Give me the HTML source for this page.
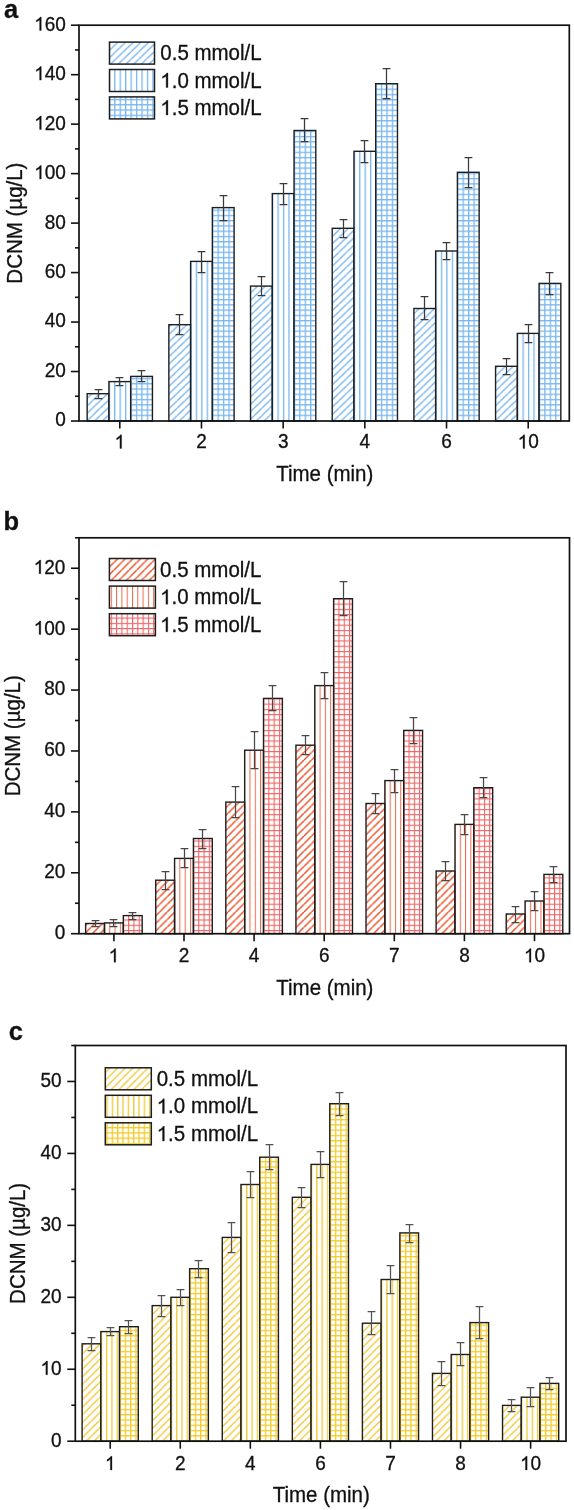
<!DOCTYPE html><html><head><meta charset="utf-8"><style>html,body{margin:0;padding:0;background:#fff;}svg{display:block;will-change:transform;}text{font-family:"Liberation Sans", sans-serif;fill:#111;stroke:#111;stroke-width:0.3px;}</style></head><body><svg width="574" height="1510" viewBox="0 0 574 1510"><defs><pattern id="da" patternUnits="userSpaceOnUse" width="7.700" height="7.423"><path d="M-7.700 7.423L0 0M0 7.423L7.700 0M7.700 7.423L15.400 0" stroke="#6aaef0" stroke-width="1.25" fill="none"/></pattern><pattern id="va" patternUnits="userSpaceOnUse" width="5.45" height="50" x="5.150"><rect x="0" y="0" width="1.3" height="50" fill="#79b6f0"/></pattern><pattern id="ga" patternUnits="userSpaceOnUse" width="5.45" height="5.26" x="5.150" y="4.210"><rect x="0" y="0" width="1.3" height="5.26" fill="#79b6f0"/><rect x="0" y="0" width="5.45" height="1.3" fill="#79b6f0"/></pattern><pattern id="db" patternUnits="userSpaceOnUse" width="7.600" height="7.600"><path d="M-7.600 7.600L0 0M0 7.600L7.600 0M7.600 7.600L15.200 0" stroke="#ea4f25" stroke-width="1.45" fill="none"/></pattern><pattern id="vb" patternUnits="userSpaceOnUse" width="5.3" height="50" x="4.800"><rect x="0" y="0" width="1.0" height="50" fill="#e86a4c"/></pattern><pattern id="gb" patternUnits="userSpaceOnUse" width="5.3" height="5.265" x="4.800" y="1.575"><rect x="0" y="0" width="1.1" height="5.265" fill="#f06262"/><rect x="0" y="0" width="5.3" height="1.1" fill="#f06262"/></pattern><pattern id="dc" patternUnits="userSpaceOnUse" width="7.600" height="7.600"><path d="M-7.600 7.600L0 0M0 7.600L7.600 0M7.600 7.600L15.200 0" stroke="#f0c428" stroke-width="1.3" fill="none"/></pattern><pattern id="vc" patternUnits="userSpaceOnUse" width="5.33" height="50" x="5.100"><rect x="0" y="0" width="1.4" height="50" fill="#f0cc40"/></pattern><pattern id="gc" patternUnits="userSpaceOnUse" width="5.33" height="5.27" x="5.100" y="4.495"><rect x="0" y="0" width="1.35" height="5.27" fill="#f4cc30"/><rect x="0" y="0" width="5.33" height="1.35" fill="#f4cc30"/></pattern></defs><g><rect x="87.17" y="393.7" width="21.75" height="27.3" fill="url(#da)"/><rect x="87.17" y="393.7" width="21.75" height="27.3" fill="none" stroke="#1e1e1e" stroke-width="1.4"/><g transform="translate(108.92 421)"><rect x="0" y="-39.4" width="21.75" height="39.4" fill="url(#va)"/></g><rect x="108.92" y="381.6" width="21.75" height="39.4" fill="none" stroke="#1e1e1e" stroke-width="1.4"/><g transform="translate(130.68 421)"><rect x="0" y="-44.6" width="21.75" height="44.6" fill="url(#ga)"/></g><rect x="130.68" y="376.4" width="21.75" height="44.6" fill="none" stroke="#1e1e1e" stroke-width="1.4"/><path d="M98.5 389.5V398.5M94.6 389.5H102.4M94.6 398.5H102.4" stroke="#3a3a3a" stroke-width="1.25" fill="none"/><path d="M119.5 377.5V385.5M115.6 377.5H123.4M115.6 385.5H123.4" stroke="#3a3a3a" stroke-width="1.25" fill="none"/><path d="M141.5 370.5V381.5M137.6 370.5H145.4M137.6 381.5H145.4" stroke="#3a3a3a" stroke-width="1.25" fill="none"/><rect x="168.86" y="324.7" width="21.75" height="96.3" fill="url(#da)"/><rect x="168.86" y="324.7" width="21.75" height="96.3" fill="none" stroke="#1e1e1e" stroke-width="1.4"/><g transform="translate(190.61 421)"><rect x="0" y="-159.6" width="21.75" height="159.6" fill="url(#va)"/></g><rect x="190.61" y="261.4" width="21.75" height="159.6" fill="none" stroke="#1e1e1e" stroke-width="1.4"/><g transform="translate(212.36 421)"><rect x="0" y="-213.4" width="21.75" height="213.4" fill="url(#ga)"/></g><rect x="212.36" y="207.6" width="21.75" height="213.4" fill="none" stroke="#1e1e1e" stroke-width="1.4"/><path d="M179.5 314.5V334.5M175.6 314.5H183.4M175.6 334.5H183.4" stroke="#3a3a3a" stroke-width="1.25" fill="none"/><path d="M201.5 251.5V272.5M197.6 251.5H205.4M197.6 272.5H205.4" stroke="#3a3a3a" stroke-width="1.25" fill="none"/><path d="M223.5 195.5V220.5M219.6 195.5H227.4M219.6 220.5H227.4" stroke="#3a3a3a" stroke-width="1.25" fill="none"/><rect x="250.54" y="286.1" width="21.75" height="134.9" fill="url(#da)"/><rect x="250.54" y="286.1" width="21.75" height="134.9" fill="none" stroke="#1e1e1e" stroke-width="1.4"/><g transform="translate(272.29 421)"><rect x="0" y="-227.4" width="21.75" height="227.4" fill="url(#va)"/></g><rect x="272.29" y="193.6" width="21.75" height="227.4" fill="none" stroke="#1e1e1e" stroke-width="1.4"/><g transform="translate(294.04 421)"><rect x="0" y="-290.5" width="21.75" height="290.5" fill="url(#ga)"/></g><rect x="294.04" y="130.5" width="21.75" height="290.5" fill="none" stroke="#1e1e1e" stroke-width="1.4"/><path d="M261.5 276.5V295.5M257.6 276.5H265.4M257.6 295.5H265.4" stroke="#3a3a3a" stroke-width="1.25" fill="none"/><path d="M283.5 183.5V204.5M279.6 183.5H287.4M279.6 204.5H287.4" stroke="#3a3a3a" stroke-width="1.25" fill="none"/><path d="M304.5 118.5V141.5M300.6 118.5H308.4M300.6 141.5H308.4" stroke="#3a3a3a" stroke-width="1.25" fill="none"/><rect x="332.22" y="228.3" width="21.75" height="192.7" fill="url(#da)"/><rect x="332.22" y="228.3" width="21.75" height="192.7" fill="none" stroke="#1e1e1e" stroke-width="1.4"/><g transform="translate(353.97 421)"><rect x="0" y="-269.7" width="21.75" height="269.7" fill="url(#va)"/></g><rect x="353.97" y="151.3" width="21.75" height="269.7" fill="none" stroke="#1e1e1e" stroke-width="1.4"/><g transform="translate(375.72 421)"><rect x="0" y="-337.3" width="21.75" height="337.3" fill="url(#ga)"/></g><rect x="375.72" y="83.7" width="21.75" height="337.3" fill="none" stroke="#1e1e1e" stroke-width="1.4"/><path d="M343.5 219.5V237.5M339.6 219.5H347.4M339.6 237.5H347.4" stroke="#3a3a3a" stroke-width="1.25" fill="none"/><path d="M364.5 140.5V162.5M360.6 140.5H368.4M360.6 162.5H368.4" stroke="#3a3a3a" stroke-width="1.25" fill="none"/><path d="M386.5 68.5V98.5M382.6 68.5H390.4M382.6 98.5H390.4" stroke="#3a3a3a" stroke-width="1.25" fill="none"/><rect x="413.9" y="308.5" width="21.75" height="112.5" fill="url(#da)"/><rect x="413.9" y="308.5" width="21.75" height="112.5" fill="none" stroke="#1e1e1e" stroke-width="1.4"/><g transform="translate(435.65 421)"><rect x="0" y="-170" width="21.75" height="170" fill="url(#va)"/></g><rect x="435.65" y="251" width="21.75" height="170" fill="none" stroke="#1e1e1e" stroke-width="1.4"/><g transform="translate(457.4 421)"><rect x="0" y="-248.7" width="21.75" height="248.7" fill="url(#ga)"/></g><rect x="457.4" y="172.3" width="21.75" height="248.7" fill="none" stroke="#1e1e1e" stroke-width="1.4"/><path d="M424.5 296.5V319.5M420.6 296.5H428.4M420.6 319.5H428.4" stroke="#3a3a3a" stroke-width="1.25" fill="none"/><path d="M446.5 242.5V259.5M442.6 242.5H450.4M442.6 259.5H450.4" stroke="#3a3a3a" stroke-width="1.25" fill="none"/><path d="M468.5 157.5V187.5M464.6 157.5H472.4M464.6 187.5H472.4" stroke="#3a3a3a" stroke-width="1.25" fill="none"/><rect x="495.58" y="366.3" width="21.75" height="54.7" fill="url(#da)"/><rect x="495.58" y="366.3" width="21.75" height="54.7" fill="none" stroke="#1e1e1e" stroke-width="1.4"/><g transform="translate(517.33 421)"><rect x="0" y="-87.6" width="21.75" height="87.6" fill="url(#va)"/></g><rect x="517.33" y="333.4" width="21.75" height="87.6" fill="none" stroke="#1e1e1e" stroke-width="1.4"/><g transform="translate(539.08 421)"><rect x="0" y="-137.6" width="21.75" height="137.6" fill="url(#ga)"/></g><rect x="539.08" y="283.4" width="21.75" height="137.6" fill="none" stroke="#1e1e1e" stroke-width="1.4"/><path d="M506.5 358.5V374.5M502.6 358.5H510.4M502.6 374.5H510.4" stroke="#3a3a3a" stroke-width="1.25" fill="none"/><path d="M528.5 324.5V342.5M524.6 324.5H532.4M524.6 342.5H532.4" stroke="#3a3a3a" stroke-width="1.25" fill="none"/><path d="M549.5 272.5V294.5M545.6 272.5H553.4M545.6 294.5H553.4" stroke="#3a3a3a" stroke-width="1.25" fill="none"/><rect x="79" y="25.2" width="490.3" height="395.8" fill="none" stroke="#111" stroke-width="1.7"/><path d="M71 421H79" stroke="#111" stroke-width="1.6"/><g transform="translate(65.90 426.40) scale(1 1.04)"><text x="-10.57" y="0" font-size="19">0</text></g><path d="M75 396.26H79" stroke="#111" stroke-width="1.6"/><path d="M71 371.52H79" stroke="#111" stroke-width="1.6"/><g transform="translate(65.90 376.92) scale(1 1.04)"><text x="-21.13" y="0" font-size="19">20</text></g><path d="M75 346.79H79" stroke="#111" stroke-width="1.6"/><path d="M71 322.05H79" stroke="#111" stroke-width="1.6"/><g transform="translate(65.90 327.45) scale(1 1.04)"><text x="-21.13" y="0" font-size="19">40</text></g><path d="M75 297.31H79" stroke="#111" stroke-width="1.6"/><path d="M71 272.58H79" stroke="#111" stroke-width="1.6"/><g transform="translate(65.90 277.98) scale(1 1.04)"><text x="-21.13" y="0" font-size="19">60</text></g><path d="M75 247.84H79" stroke="#111" stroke-width="1.6"/><path d="M71 223.1H79" stroke="#111" stroke-width="1.6"/><g transform="translate(65.90 228.50) scale(1 1.04)"><text x="-21.13" y="0" font-size="19">80</text></g><path d="M75 198.36H79" stroke="#111" stroke-width="1.6"/><path d="M71 173.62H79" stroke="#111" stroke-width="1.6"/><g transform="translate(65.90 179.03) scale(1 1.04)"><path d="M-24.62 0.00L-26.29 0.00L-26.29 -10.22Q-26.90 -9.68 -27.88 -9.12Q-28.86 -8.57 -29.64 -8.29L-29.64 -9.84Q-28.24 -10.47 -27.19 -11.37Q-26.14 -12.27 -25.71 -13.07L-24.62 -13.07Z" fill="#111" stroke="#111" stroke-width="0.3"/><text x="-21.13" y="0" font-size="19">00</text></g><path d="M75 148.89H79" stroke="#111" stroke-width="1.6"/><path d="M71 124.15H79" stroke="#111" stroke-width="1.6"/><g transform="translate(65.90 129.55) scale(1 1.04)"><path d="M-24.62 0.00L-26.29 0.00L-26.29 -10.22Q-26.90 -9.68 -27.88 -9.12Q-28.86 -8.57 -29.64 -8.29L-29.64 -9.84Q-28.24 -10.47 -27.19 -11.37Q-26.14 -12.27 -25.71 -13.07L-24.62 -13.07Z" fill="#111" stroke="#111" stroke-width="0.3"/><text x="-21.13" y="0" font-size="19">20</text></g><path d="M75 99.41H79" stroke="#111" stroke-width="1.6"/><path d="M71 74.68H79" stroke="#111" stroke-width="1.6"/><g transform="translate(65.90 80.08) scale(1 1.04)"><path d="M-24.62 0.00L-26.29 0.00L-26.29 -10.22Q-26.90 -9.68 -27.88 -9.12Q-28.86 -8.57 -29.64 -8.29L-29.64 -9.84Q-28.24 -10.47 -27.19 -11.37Q-26.14 -12.27 -25.71 -13.07L-24.62 -13.07Z" fill="#111" stroke="#111" stroke-width="0.3"/><text x="-21.13" y="0" font-size="19">40</text></g><path d="M75 49.94H79" stroke="#111" stroke-width="1.6"/><path d="M71 25.2H79" stroke="#111" stroke-width="1.6"/><g transform="translate(65.90 30.60) scale(1 1.04)"><path d="M-24.62 0.00L-26.29 0.00L-26.29 -10.22Q-26.90 -9.68 -27.88 -9.12Q-28.86 -8.57 -29.64 -8.29L-29.64 -9.84Q-28.24 -10.47 -27.19 -11.37Q-26.14 -12.27 -25.71 -13.07L-24.62 -13.07Z" fill="#111" stroke="#111" stroke-width="0.3"/><text x="-21.13" y="0" font-size="19">60</text></g><path d="M119.8 421v7.5" stroke="#111" stroke-width="1.6"/><g transform="translate(119.80 448.40) scale(1 1.04)"><path d="M1.80 0.00L0.13 0.00L0.13 -10.22Q-0.48 -9.68 -1.46 -9.12Q-2.44 -8.57 -3.22 -8.29L-3.22 -9.84Q-1.82 -10.47 -0.77 -11.37Q0.27 -12.27 0.71 -13.07L1.80 -13.07Z" fill="#111" stroke="#111" stroke-width="0.3"/></g><path d="M201.48 421v7.5" stroke="#111" stroke-width="1.6"/><g transform="translate(201.48 448.40) scale(1 1.04)"><text x="-5.28" y="0" font-size="19">2</text></g><path d="M283.16 421v7.5" stroke="#111" stroke-width="1.6"/><g transform="translate(283.16 448.40) scale(1 1.04)"><text x="-5.28" y="0" font-size="19">3</text></g><path d="M364.84 421v7.5" stroke="#111" stroke-width="1.6"/><g transform="translate(364.84 448.40) scale(1 1.04)"><text x="-5.28" y="0" font-size="19">4</text></g><path d="M446.52 421v7.5" stroke="#111" stroke-width="1.6"/><g transform="translate(446.52 448.40) scale(1 1.04)"><text x="-5.28" y="0" font-size="19">6</text></g><path d="M528.2 421v7.5" stroke="#111" stroke-width="1.6"/><g transform="translate(528.20 448.40) scale(1 1.04)"><path d="M-3.49 0.00L-5.16 0.00L-5.16 -10.22Q-5.76 -9.68 -6.74 -9.12Q-7.73 -8.57 -8.51 -8.29L-8.51 -9.84Q-7.11 -10.47 -6.06 -11.37Q-5.01 -12.27 -4.57 -13.07L-3.49 -13.07Z" fill="#111" stroke="#111" stroke-width="0.3"/><text x="0.00" y="0" font-size="19">0</text></g><g transform="translate(325.15 481.30) scale(1 1.04)"><text x="-48.97" y="0" font-size="20.5">Time (min)</text></g><g transform="translate(22.40 223.10) rotate(-90) scale(1 1.04)"><text x="-60.57" y="0" font-size="20.5">DCNM (µg/L)</text></g><rect x="109.5" y="42.1" width="45" height="22" fill="url(#da)" stroke="#1e1e1e" stroke-width="1.5"/><g transform="translate(160.30 60.20) scale(1 1.04)"><text x="0.00" y="0" font-size="20.5">0.5 mmol/L</text></g><rect x="109.5" y="69.5" width="45" height="22" fill="url(#va)" stroke="#1e1e1e" stroke-width="1.5"/><g transform="translate(160.30 87.60) scale(1 1.04)"><path d="M7.64 0.00L5.84 0.00L5.84 -11.03Q5.19 -10.44 4.12 -9.84Q3.06 -9.25 2.22 -8.95L2.22 -10.62Q3.73 -11.30 4.86 -12.27Q6.00 -13.24 6.47 -14.10L7.64 -14.10Z" fill="#111" stroke="#111" stroke-width="0.3"/><text x="11.40" y="0" font-size="20.5">.0 mmol/L</text></g><rect x="109.5" y="96.9" width="45" height="22" fill="url(#ga)" stroke="#1e1e1e" stroke-width="1.5"/><g transform="translate(160.30 115.00) scale(1 1.04)"><path d="M7.64 0.00L5.84 0.00L5.84 -11.03Q5.19 -10.44 4.12 -9.84Q3.06 -9.25 2.22 -8.95L2.22 -10.62Q3.73 -11.30 4.86 -12.27Q6.00 -13.24 6.47 -14.10L7.64 -14.10Z" fill="#111" stroke="#111" stroke-width="0.3"/><text x="11.40" y="0" font-size="20.5">.5 mmol/L</text></g><text x="4" y="17.8" font-size="25.5" font-weight="bold">a</text></g><g><rect x="85.62" y="923.5" width="18.85" height="10.2" fill="url(#db)"/><rect x="85.62" y="923.5" width="18.85" height="10.2" fill="none" stroke="#1e1e1e" stroke-width="1.4"/><g transform="translate(104.47 933.7)"><rect x="0" y="-10.8" width="18.85" height="10.8" fill="url(#vb)"/></g><rect x="104.47" y="922.9" width="18.85" height="10.8" fill="none" stroke="#1e1e1e" stroke-width="1.4"/><g transform="translate(123.33 933.7)"><rect x="0" y="-18.1" width="18.85" height="18.1" fill="url(#gb)"/></g><rect x="123.33" y="915.6" width="18.85" height="18.1" fill="none" stroke="#1e1e1e" stroke-width="1.4"/><path d="M95.5 920.5V926.5M91.6 920.5H99.4M91.6 926.5H99.4" stroke="#474747" stroke-width="1.25" fill="none"/><path d="M113.5 919.5V926.5M109.6 919.5H117.4M109.6 926.5H117.4" stroke="#474747" stroke-width="1.25" fill="none"/><path d="M132.5 912.5V919.5M128.6 912.5H136.4M128.6 919.5H136.4" stroke="#474747" stroke-width="1.25" fill="none"/><rect x="155.72" y="880.2" width="18.85" height="53.5" fill="url(#db)"/><rect x="155.72" y="880.2" width="18.85" height="53.5" fill="none" stroke="#1e1e1e" stroke-width="1.4"/><g transform="translate(174.57 933.7)"><rect x="0" y="-75.3" width="18.85" height="75.3" fill="url(#vb)"/></g><rect x="174.57" y="858.4" width="18.85" height="75.3" fill="none" stroke="#1e1e1e" stroke-width="1.4"/><g transform="translate(193.43 933.7)"><rect x="0" y="-95.2" width="18.85" height="95.2" fill="url(#gb)"/></g><rect x="193.43" y="838.5" width="18.85" height="95.2" fill="none" stroke="#1e1e1e" stroke-width="1.4"/><path d="M165.5 871.5V889.5M161.6 871.5H169.4M161.6 889.5H169.4" stroke="#474747" stroke-width="1.25" fill="none"/><path d="M184.5 848.5V867.5M180.6 848.5H188.4M180.6 867.5H188.4" stroke="#474747" stroke-width="1.25" fill="none"/><path d="M202.5 829.5V848.5M198.6 829.5H206.4M198.6 848.5H206.4" stroke="#474747" stroke-width="1.25" fill="none"/><rect x="225.82" y="802.1" width="18.85" height="131.6" fill="url(#db)"/><rect x="225.82" y="802.1" width="18.85" height="131.6" fill="none" stroke="#1e1e1e" stroke-width="1.4"/><g transform="translate(244.67 933.7)"><rect x="0" y="-183.5" width="18.85" height="183.5" fill="url(#vb)"/></g><rect x="244.67" y="750.2" width="18.85" height="183.5" fill="none" stroke="#1e1e1e" stroke-width="1.4"/><g transform="translate(263.52 933.7)"><rect x="0" y="-235.3" width="18.85" height="235.3" fill="url(#gb)"/></g><rect x="263.52" y="698.4" width="18.85" height="235.3" fill="none" stroke="#1e1e1e" stroke-width="1.4"/><path d="M235.5 786.5V817.5M231.6 786.5H239.4M231.6 817.5H239.4" stroke="#474747" stroke-width="1.25" fill="none"/><path d="M254.5 731.5V768.5M250.6 731.5H258.4M250.6 768.5H258.4" stroke="#474747" stroke-width="1.25" fill="none"/><path d="M272.5 685.5V710.5M268.6 685.5H276.4M268.6 710.5H276.4" stroke="#474747" stroke-width="1.25" fill="none"/><rect x="295.93" y="745.2" width="18.85" height="188.5" fill="url(#db)"/><rect x="295.93" y="745.2" width="18.85" height="188.5" fill="none" stroke="#1e1e1e" stroke-width="1.4"/><g transform="translate(314.78 933.7)"><rect x="0" y="-248.1" width="18.85" height="248.1" fill="url(#vb)"/></g><rect x="314.78" y="685.6" width="18.85" height="248.1" fill="none" stroke="#1e1e1e" stroke-width="1.4"/><g transform="translate(333.62 933.7)"><rect x="0" y="-335" width="18.85" height="335" fill="url(#gb)"/></g><rect x="333.62" y="598.7" width="18.85" height="335" fill="none" stroke="#1e1e1e" stroke-width="1.4"/><path d="M305.5 735.5V754.5M301.6 735.5H309.4M301.6 754.5H309.4" stroke="#474747" stroke-width="1.25" fill="none"/><path d="M324.5 672.5V698.5M320.6 672.5H328.4M320.6 698.5H328.4" stroke="#474747" stroke-width="1.25" fill="none"/><path d="M343.5 581.5V615.5M339.6 581.5H347.4M339.6 615.5H347.4" stroke="#474747" stroke-width="1.25" fill="none"/><rect x="366.02" y="803.5" width="18.85" height="130.2" fill="url(#db)"/><rect x="366.02" y="803.5" width="18.85" height="130.2" fill="none" stroke="#1e1e1e" stroke-width="1.4"/><g transform="translate(384.88 933.7)"><rect x="0" y="-153.1" width="18.85" height="153.1" fill="url(#vb)"/></g><rect x="384.88" y="780.6" width="18.85" height="153.1" fill="none" stroke="#1e1e1e" stroke-width="1.4"/><g transform="translate(403.72 933.7)"><rect x="0" y="-203.3" width="18.85" height="203.3" fill="url(#gb)"/></g><rect x="403.72" y="730.4" width="18.85" height="203.3" fill="none" stroke="#1e1e1e" stroke-width="1.4"/><path d="M375.5 793.5V813.5M371.6 793.5H379.4M371.6 813.5H379.4" stroke="#474747" stroke-width="1.25" fill="none"/><path d="M394.5 769.5V792.5M390.6 769.5H398.4M390.6 792.5H398.4" stroke="#474747" stroke-width="1.25" fill="none"/><path d="M413.5 717.5V743.5M409.6 717.5H417.4M409.6 743.5H417.4" stroke="#474747" stroke-width="1.25" fill="none"/><rect x="436.12" y="871" width="18.85" height="62.7" fill="url(#db)"/><rect x="436.12" y="871" width="18.85" height="62.7" fill="none" stroke="#1e1e1e" stroke-width="1.4"/><g transform="translate(454.98 933.7)"><rect x="0" y="-109.3" width="18.85" height="109.3" fill="url(#vb)"/></g><rect x="454.98" y="824.4" width="18.85" height="109.3" fill="none" stroke="#1e1e1e" stroke-width="1.4"/><g transform="translate(473.82 933.7)"><rect x="0" y="-146" width="18.85" height="146" fill="url(#gb)"/></g><rect x="473.82" y="787.7" width="18.85" height="146" fill="none" stroke="#1e1e1e" stroke-width="1.4"/><path d="M445.5 861.5V880.5M441.6 861.5H449.4M441.6 880.5H449.4" stroke="#474747" stroke-width="1.25" fill="none"/><path d="M464.5 814.5V834.5M460.6 814.5H468.4M460.6 834.5H468.4" stroke="#474747" stroke-width="1.25" fill="none"/><path d="M483.5 777.5V797.5M479.6 777.5H487.4M479.6 797.5H487.4" stroke="#474747" stroke-width="1.25" fill="none"/><rect x="506.23" y="914" width="18.85" height="19.7" fill="url(#db)"/><rect x="506.23" y="914" width="18.85" height="19.7" fill="none" stroke="#1e1e1e" stroke-width="1.4"/><g transform="translate(525.08 933.7)"><rect x="0" y="-32.7" width="18.85" height="32.7" fill="url(#vb)"/></g><rect x="525.08" y="901" width="18.85" height="32.7" fill="none" stroke="#1e1e1e" stroke-width="1.4"/><g transform="translate(543.93 933.7)"><rect x="0" y="-59.3" width="18.85" height="59.3" fill="url(#gb)"/></g><rect x="543.93" y="874.4" width="18.85" height="59.3" fill="none" stroke="#1e1e1e" stroke-width="1.4"/><path d="M515.5 906.5V922.5M511.6 906.5H519.4M511.6 922.5H519.4" stroke="#474747" stroke-width="1.25" fill="none"/><path d="M534.5 891.5V910.5M530.6 891.5H538.4M530.6 910.5H538.4" stroke="#474747" stroke-width="1.25" fill="none"/><path d="M553.5 866.5V882.5M549.6 866.5H557.4M549.6 882.5H557.4" stroke="#474747" stroke-width="1.25" fill="none"/><rect x="79" y="537.8" width="490.5" height="395.9" fill="none" stroke="#111" stroke-width="1.7"/><path d="M71 933.7H79" stroke="#111" stroke-width="1.6"/><g transform="translate(65.40 939.10) scale(1 1.04)"><text x="-10.57" y="0" font-size="19">0</text></g><path d="M75 903.25H79" stroke="#111" stroke-width="1.6"/><path d="M71 872.79H79" stroke="#111" stroke-width="1.6"/><g transform="translate(65.40 878.19) scale(1 1.04)"><text x="-21.13" y="0" font-size="19">20</text></g><path d="M75 842.34H79" stroke="#111" stroke-width="1.6"/><path d="M71 811.88H79" stroke="#111" stroke-width="1.6"/><g transform="translate(65.40 817.28) scale(1 1.04)"><text x="-21.13" y="0" font-size="19">40</text></g><path d="M75 781.43H79" stroke="#111" stroke-width="1.6"/><path d="M71 750.98H79" stroke="#111" stroke-width="1.6"/><g transform="translate(65.40 756.38) scale(1 1.04)"><text x="-21.13" y="0" font-size="19">60</text></g><path d="M75 720.52H79" stroke="#111" stroke-width="1.6"/><path d="M71 690.07H79" stroke="#111" stroke-width="1.6"/><g transform="translate(65.40 695.47) scale(1 1.04)"><text x="-21.13" y="0" font-size="19">80</text></g><path d="M75 659.62H79" stroke="#111" stroke-width="1.6"/><path d="M71 629.16H79" stroke="#111" stroke-width="1.6"/><g transform="translate(65.40 634.56) scale(1 1.04)"><path d="M-24.62 0.00L-26.29 0.00L-26.29 -10.22Q-26.90 -9.68 -27.88 -9.12Q-28.86 -8.57 -29.64 -8.29L-29.64 -9.84Q-28.24 -10.47 -27.19 -11.37Q-26.14 -12.27 -25.71 -13.07L-24.62 -13.07Z" fill="#111" stroke="#111" stroke-width="0.3"/><text x="-21.13" y="0" font-size="19">00</text></g><path d="M75 598.71H79" stroke="#111" stroke-width="1.6"/><path d="M71 568.25H79" stroke="#111" stroke-width="1.6"/><g transform="translate(65.40 573.65) scale(1 1.04)"><path d="M-24.62 0.00L-26.29 0.00L-26.29 -10.22Q-26.90 -9.68 -27.88 -9.12Q-28.86 -8.57 -29.64 -8.29L-29.64 -9.84Q-28.24 -10.47 -27.19 -11.37Q-26.14 -12.27 -25.71 -13.07L-24.62 -13.07Z" fill="#111" stroke="#111" stroke-width="0.3"/><text x="-21.13" y="0" font-size="19">20</text></g><path d="M75 537.8H79" stroke="#111" stroke-width="1.6"/><path d="M113.9 933.7v7.5" stroke="#111" stroke-width="1.6"/><g transform="translate(113.90 962.20) scale(1 1.04)"><path d="M1.80 0.00L0.13 0.00L0.13 -10.22Q-0.48 -9.68 -1.46 -9.12Q-2.44 -8.57 -3.22 -8.29L-3.22 -9.84Q-1.82 -10.47 -0.77 -11.37Q0.27 -12.27 0.71 -13.07L1.80 -13.07Z" fill="#111" stroke="#111" stroke-width="0.3"/></g><path d="M184 933.7v7.5" stroke="#111" stroke-width="1.6"/><g transform="translate(184.00 962.20) scale(1 1.04)"><text x="-5.28" y="0" font-size="19">2</text></g><path d="M254.1 933.7v7.5" stroke="#111" stroke-width="1.6"/><g transform="translate(254.10 962.20) scale(1 1.04)"><text x="-5.28" y="0" font-size="19">4</text></g><path d="M324.2 933.7v7.5" stroke="#111" stroke-width="1.6"/><g transform="translate(324.20 962.20) scale(1 1.04)"><text x="-5.28" y="0" font-size="19">6</text></g><path d="M394.3 933.7v7.5" stroke="#111" stroke-width="1.6"/><g transform="translate(394.30 962.20) scale(1 1.04)"><text x="-5.28" y="0" font-size="19">7</text></g><path d="M464.4 933.7v7.5" stroke="#111" stroke-width="1.6"/><g transform="translate(464.40 962.20) scale(1 1.04)"><text x="-5.28" y="0" font-size="19">8</text></g><path d="M534.5 933.7v7.5" stroke="#111" stroke-width="1.6"/><g transform="translate(534.50 962.20) scale(1 1.04)"><path d="M-3.49 0.00L-5.16 0.00L-5.16 -10.22Q-5.76 -9.68 -6.74 -9.12Q-7.73 -8.57 -8.51 -8.29L-8.51 -9.84Q-7.11 -10.47 -6.06 -11.37Q-5.01 -12.27 -4.57 -13.07L-3.49 -13.07Z" fill="#111" stroke="#111" stroke-width="0.3"/><text x="0.00" y="0" font-size="19">0</text></g><g transform="translate(325.25 994.50) scale(1 1.04)"><text x="-48.97" y="0" font-size="20.5">Time (min)</text></g><g transform="translate(19.90 735.75) rotate(-90) scale(1 1.04)"><text x="-60.57" y="0" font-size="20.5">DCNM (µg/L)</text></g><rect x="109.4" y="558.5" width="46" height="22" fill="url(#db)" stroke="#1e1e1e" stroke-width="1.5"/><g transform="translate(160.10 576.60) scale(1 1.04)"><text x="0.00" y="0" font-size="20.5">0.5 mmol/L</text></g><rect x="109.4" y="586.1" width="46" height="22" fill="url(#vb)" stroke="#1e1e1e" stroke-width="1.5"/><g transform="translate(160.10 604.20) scale(1 1.04)"><path d="M7.64 0.00L5.84 0.00L5.84 -11.03Q5.19 -10.44 4.12 -9.84Q3.06 -9.25 2.22 -8.95L2.22 -10.62Q3.73 -11.30 4.86 -12.27Q6.00 -13.24 6.47 -14.10L7.64 -14.10Z" fill="#111" stroke="#111" stroke-width="0.3"/><text x="11.40" y="0" font-size="20.5">.0 mmol/L</text></g><rect x="109.4" y="613.7" width="46" height="22" fill="url(#gb)" stroke="#1e1e1e" stroke-width="1.5"/><g transform="translate(160.10 631.80) scale(1 1.04)"><path d="M7.64 0.00L5.84 0.00L5.84 -11.03Q5.19 -10.44 4.12 -9.84Q3.06 -9.25 2.22 -8.95L2.22 -10.62Q3.73 -11.30 4.86 -12.27Q6.00 -13.24 6.47 -14.10L7.64 -14.10Z" fill="#111" stroke="#111" stroke-width="0.3"/><text x="11.40" y="0" font-size="20.5">.5 mmol/L</text></g><text x="3.6" y="530.1" font-size="25.5" font-weight="bold">b</text></g><g><rect x="82.12" y="1343.8" width="18.72" height="97.4" fill="url(#dc)"/><rect x="82.12" y="1343.8" width="18.72" height="97.4" fill="none" stroke="#1e1e1e" stroke-width="1.4"/><g transform="translate(100.84 1441.2)"><rect x="0" y="-109.6" width="18.72" height="109.6" fill="url(#vc)"/></g><rect x="100.84" y="1331.6" width="18.72" height="109.6" fill="none" stroke="#1e1e1e" stroke-width="1.4"/><g transform="translate(119.56 1441.2)"><rect x="0" y="-114.5" width="18.72" height="114.5" fill="url(#gc)"/></g><rect x="119.56" y="1326.7" width="18.72" height="114.5" fill="none" stroke="#1e1e1e" stroke-width="1.4"/><path d="M91.5 1337.5V1350.5M87.6 1337.5H95.4M87.6 1350.5H95.4" stroke="#525252" stroke-width="1.25" fill="none"/><path d="M110.5 1327.5V1335.5M106.6 1327.5H114.4M106.6 1335.5H114.4" stroke="#525252" stroke-width="1.25" fill="none"/><path d="M128.5 1320.5V1333.5M124.6 1320.5H132.4M124.6 1333.5H132.4" stroke="#525252" stroke-width="1.25" fill="none"/><rect x="152.19" y="1305.6" width="18.72" height="135.6" fill="url(#dc)"/><rect x="152.19" y="1305.6" width="18.72" height="135.6" fill="none" stroke="#1e1e1e" stroke-width="1.4"/><g transform="translate(170.91 1441.2)"><rect x="0" y="-143.9" width="18.72" height="143.9" fill="url(#vc)"/></g><rect x="170.91" y="1297.3" width="18.72" height="143.9" fill="none" stroke="#1e1e1e" stroke-width="1.4"/><g transform="translate(189.63 1441.2)"><rect x="0" y="-172.5" width="18.72" height="172.5" fill="url(#gc)"/></g><rect x="189.63" y="1268.7" width="18.72" height="172.5" fill="none" stroke="#1e1e1e" stroke-width="1.4"/><path d="M161.5 1295.5V1316.5M157.6 1295.5H165.4M157.6 1316.5H165.4" stroke="#525252" stroke-width="1.25" fill="none"/><path d="M180.5 1289.5V1305.5M176.6 1289.5H184.4M176.6 1305.5H184.4" stroke="#525252" stroke-width="1.25" fill="none"/><path d="M198.5 1260.5V1277.5M194.6 1260.5H202.4M194.6 1277.5H202.4" stroke="#525252" stroke-width="1.25" fill="none"/><rect x="222.26" y="1237.4" width="18.72" height="203.8" fill="url(#dc)"/><rect x="222.26" y="1237.4" width="18.72" height="203.8" fill="none" stroke="#1e1e1e" stroke-width="1.4"/><g transform="translate(240.98 1441.2)"><rect x="0" y="-256.7" width="18.72" height="256.7" fill="url(#vc)"/></g><rect x="240.98" y="1184.5" width="18.72" height="256.7" fill="none" stroke="#1e1e1e" stroke-width="1.4"/><g transform="translate(259.7 1441.2)"><rect x="0" y="-284" width="18.72" height="284" fill="url(#gc)"/></g><rect x="259.7" y="1157.2" width="18.72" height="284" fill="none" stroke="#1e1e1e" stroke-width="1.4"/><path d="M231.5 1222.5V1252.5M227.6 1222.5H235.4M227.6 1252.5H235.4" stroke="#525252" stroke-width="1.25" fill="none"/><path d="M250.5 1171.5V1197.5M246.6 1171.5H254.4M246.6 1197.5H254.4" stroke="#525252" stroke-width="1.25" fill="none"/><path d="M269.5 1144.5V1169.5M265.6 1144.5H273.4M265.6 1169.5H273.4" stroke="#525252" stroke-width="1.25" fill="none"/><rect x="292.33" y="1197.3" width="18.72" height="243.9" fill="url(#dc)"/><rect x="292.33" y="1197.3" width="18.72" height="243.9" fill="none" stroke="#1e1e1e" stroke-width="1.4"/><g transform="translate(311.05 1441.2)"><rect x="0" y="-276.8" width="18.72" height="276.8" fill="url(#vc)"/></g><rect x="311.05" y="1164.4" width="18.72" height="276.8" fill="none" stroke="#1e1e1e" stroke-width="1.4"/><g transform="translate(329.77 1441.2)"><rect x="0" y="-337.5" width="18.72" height="337.5" fill="url(#gc)"/></g><rect x="329.77" y="1103.7" width="18.72" height="337.5" fill="none" stroke="#1e1e1e" stroke-width="1.4"/><path d="M301.5 1187.5V1207.5M297.6 1187.5H305.4M297.6 1207.5H305.4" stroke="#525252" stroke-width="1.25" fill="none"/><path d="M320.5 1151.5V1177.5M316.6 1151.5H324.4M316.6 1177.5H324.4" stroke="#525252" stroke-width="1.25" fill="none"/><path d="M339.5 1092.5V1115.5M335.6 1092.5H343.4M335.6 1115.5H343.4" stroke="#525252" stroke-width="1.25" fill="none"/><rect x="362.4" y="1323.2" width="18.72" height="118" fill="url(#dc)"/><rect x="362.4" y="1323.2" width="18.72" height="118" fill="none" stroke="#1e1e1e" stroke-width="1.4"/><g transform="translate(381.12 1441.2)"><rect x="0" y="-161.7" width="18.72" height="161.7" fill="url(#vc)"/></g><rect x="381.12" y="1279.5" width="18.72" height="161.7" fill="none" stroke="#1e1e1e" stroke-width="1.4"/><g transform="translate(399.84 1441.2)"><rect x="0" y="-208.3" width="18.72" height="208.3" fill="url(#gc)"/></g><rect x="399.84" y="1232.9" width="18.72" height="208.3" fill="none" stroke="#1e1e1e" stroke-width="1.4"/><path d="M371.5 1311.5V1334.5M367.6 1311.5H375.4M367.6 1334.5H375.4" stroke="#525252" stroke-width="1.25" fill="none"/><path d="M390.5 1265.5V1293.5M386.6 1265.5H394.4M386.6 1293.5H394.4" stroke="#525252" stroke-width="1.25" fill="none"/><path d="M409.5 1224.5V1242.5M405.6 1224.5H413.4M405.6 1242.5H413.4" stroke="#525252" stroke-width="1.25" fill="none"/><rect x="432.47" y="1373.4" width="18.72" height="67.8" fill="url(#dc)"/><rect x="432.47" y="1373.4" width="18.72" height="67.8" fill="none" stroke="#1e1e1e" stroke-width="1.4"/><g transform="translate(451.19 1441.2)"><rect x="0" y="-86.7" width="18.72" height="86.7" fill="url(#vc)"/></g><rect x="451.19" y="1354.5" width="18.72" height="86.7" fill="none" stroke="#1e1e1e" stroke-width="1.4"/><g transform="translate(469.91 1441.2)"><rect x="0" y="-118.6" width="18.72" height="118.6" fill="url(#gc)"/></g><rect x="469.91" y="1322.6" width="18.72" height="118.6" fill="none" stroke="#1e1e1e" stroke-width="1.4"/><path d="M441.5 1361.5V1385.5M437.6 1361.5H445.4M437.6 1385.5H445.4" stroke="#525252" stroke-width="1.25" fill="none"/><path d="M460.5 1342.5V1365.5M456.6 1342.5H464.4M456.6 1365.5H464.4" stroke="#525252" stroke-width="1.25" fill="none"/><path d="M479.5 1306.5V1338.5M475.6 1306.5H483.4M475.6 1338.5H483.4" stroke="#525252" stroke-width="1.25" fill="none"/><rect x="502.54" y="1405.4" width="18.72" height="35.8" fill="url(#dc)"/><rect x="502.54" y="1405.4" width="18.72" height="35.8" fill="none" stroke="#1e1e1e" stroke-width="1.4"/><g transform="translate(521.26 1441.2)"><rect x="0" y="-44" width="18.72" height="44" fill="url(#vc)"/></g><rect x="521.26" y="1397.2" width="18.72" height="44" fill="none" stroke="#1e1e1e" stroke-width="1.4"/><g transform="translate(539.98 1441.2)"><rect x="0" y="-57.8" width="18.72" height="57.8" fill="url(#gc)"/></g><rect x="539.98" y="1383.4" width="18.72" height="57.8" fill="none" stroke="#1e1e1e" stroke-width="1.4"/><path d="M511.5 1399.5V1411.5M507.6 1399.5H515.4M507.6 1411.5H515.4" stroke="#525252" stroke-width="1.25" fill="none"/><path d="M530.5 1387.5V1406.5M526.6 1387.5H534.4M526.6 1406.5H534.4" stroke="#525252" stroke-width="1.25" fill="none"/><path d="M549.5 1377.5V1389.5M545.6 1377.5H553.4M545.6 1389.5H553.4" stroke="#525252" stroke-width="1.25" fill="none"/><rect x="75.3" y="1045.5" width="490.7" height="395.7" fill="none" stroke="#111" stroke-width="1.7"/><path d="M67.3 1441.2H75.3" stroke="#111" stroke-width="1.6"/><g transform="translate(61.60 1446.60) scale(1 1.04)"><text x="-10.57" y="0" font-size="19">0</text></g><path d="M71.3 1405.23H75.3" stroke="#111" stroke-width="1.6"/><path d="M67.3 1369.25H75.3" stroke="#111" stroke-width="1.6"/><g transform="translate(61.60 1374.65) scale(1 1.04)"><path d="M-14.06 0.00L-15.73 0.00L-15.73 -10.22Q-16.33 -9.68 -17.31 -9.12Q-18.29 -8.57 -19.07 -8.29L-19.07 -9.84Q-17.67 -10.47 -16.62 -11.37Q-15.58 -12.27 -15.14 -13.07L-14.06 -13.07Z" fill="#111" stroke="#111" stroke-width="0.3"/><text x="-10.57" y="0" font-size="19">0</text></g><path d="M71.3 1333.28H75.3" stroke="#111" stroke-width="1.6"/><path d="M67.3 1297.31H75.3" stroke="#111" stroke-width="1.6"/><g transform="translate(61.60 1302.71) scale(1 1.04)"><text x="-21.13" y="0" font-size="19">20</text></g><path d="M71.3 1261.34H75.3" stroke="#111" stroke-width="1.6"/><path d="M67.3 1225.36H75.3" stroke="#111" stroke-width="1.6"/><g transform="translate(61.60 1230.76) scale(1 1.04)"><text x="-21.13" y="0" font-size="19">30</text></g><path d="M71.3 1189.39H75.3" stroke="#111" stroke-width="1.6"/><path d="M67.3 1153.42H75.3" stroke="#111" stroke-width="1.6"/><g transform="translate(61.60 1158.82) scale(1 1.04)"><text x="-21.13" y="0" font-size="19">40</text></g><path d="M71.3 1117.45H75.3" stroke="#111" stroke-width="1.6"/><path d="M67.3 1081.47H75.3" stroke="#111" stroke-width="1.6"/><g transform="translate(61.60 1086.87) scale(1 1.04)"><text x="-21.13" y="0" font-size="19">50</text></g><path d="M71.3 1045.5H75.3" stroke="#111" stroke-width="1.6"/><path d="M110.2 1441.2v7.5" stroke="#111" stroke-width="1.6"/><g transform="translate(110.20 1469.90) scale(1 1.04)"><path d="M1.80 0.00L0.13 0.00L0.13 -10.22Q-0.48 -9.68 -1.46 -9.12Q-2.44 -8.57 -3.22 -8.29L-3.22 -9.84Q-1.82 -10.47 -0.77 -11.37Q0.27 -12.27 0.71 -13.07L1.80 -13.07Z" fill="#111" stroke="#111" stroke-width="0.3"/></g><path d="M180.27 1441.2v7.5" stroke="#111" stroke-width="1.6"/><g transform="translate(180.27 1469.90) scale(1 1.04)"><text x="-5.28" y="0" font-size="19">2</text></g><path d="M250.34 1441.2v7.5" stroke="#111" stroke-width="1.6"/><g transform="translate(250.34 1469.90) scale(1 1.04)"><text x="-5.28" y="0" font-size="19">4</text></g><path d="M320.41 1441.2v7.5" stroke="#111" stroke-width="1.6"/><g transform="translate(320.41 1469.90) scale(1 1.04)"><text x="-5.28" y="0" font-size="19">6</text></g><path d="M390.48 1441.2v7.5" stroke="#111" stroke-width="1.6"/><g transform="translate(390.48 1469.90) scale(1 1.04)"><text x="-5.28" y="0" font-size="19">7</text></g><path d="M460.55 1441.2v7.5" stroke="#111" stroke-width="1.6"/><g transform="translate(460.55 1469.90) scale(1 1.04)"><text x="-5.28" y="0" font-size="19">8</text></g><path d="M530.62 1441.2v7.5" stroke="#111" stroke-width="1.6"/><g transform="translate(530.62 1469.90) scale(1 1.04)"><path d="M-3.49 0.00L-5.16 0.00L-5.16 -10.22Q-5.76 -9.68 -6.74 -9.12Q-7.73 -8.57 -8.51 -8.29L-8.51 -9.84Q-7.11 -10.47 -6.06 -11.37Q-5.01 -12.27 -4.57 -13.07L-3.49 -13.07Z" fill="#111" stroke="#111" stroke-width="0.3"/><text x="0.00" y="0" font-size="19">0</text></g><g transform="translate(321.65 1502.20) scale(1 1.04)"><text x="-48.97" y="0" font-size="20.5">Time (min)</text></g><g transform="translate(24.50 1243.35) rotate(-90) scale(1 1.04)"><text x="-60.57" y="0" font-size="20.5">DCNM (µg/L)</text></g><rect x="105.3" y="1067.8" width="46" height="22" fill="url(#dc)" stroke="#1e1e1e" stroke-width="1.5"/><g transform="translate(156.70 1085.90) scale(1 1.04)"><text x="0.00" y="0" font-size="20.5">0.5 mmol/L</text></g><rect x="105.3" y="1095.3" width="46" height="22" fill="url(#vc)" stroke="#1e1e1e" stroke-width="1.5"/><g transform="translate(156.70 1113.40) scale(1 1.04)"><path d="M7.64 0.00L5.84 0.00L5.84 -11.03Q5.19 -10.44 4.12 -9.84Q3.06 -9.25 2.22 -8.95L2.22 -10.62Q3.73 -11.30 4.86 -12.27Q6.00 -13.24 6.47 -14.10L7.64 -14.10Z" fill="#111" stroke="#111" stroke-width="0.3"/><text x="11.40" y="0" font-size="20.5">.0 mmol/L</text></g><rect x="105.3" y="1122.8" width="46" height="22" fill="url(#gc)" stroke="#1e1e1e" stroke-width="1.5"/><g transform="translate(156.70 1140.90) scale(1 1.04)"><path d="M7.64 0.00L5.84 0.00L5.84 -11.03Q5.19 -10.44 4.12 -9.84Q3.06 -9.25 2.22 -8.95L2.22 -10.62Q3.73 -11.30 4.86 -12.27Q6.00 -13.24 6.47 -14.10L7.64 -14.10Z" fill="#111" stroke="#111" stroke-width="0.3"/><text x="11.40" y="0" font-size="20.5">.5 mmol/L</text></g><text x="8.8" y="1039.6" font-size="25.5" font-weight="bold">c</text></g></svg></body></html>
